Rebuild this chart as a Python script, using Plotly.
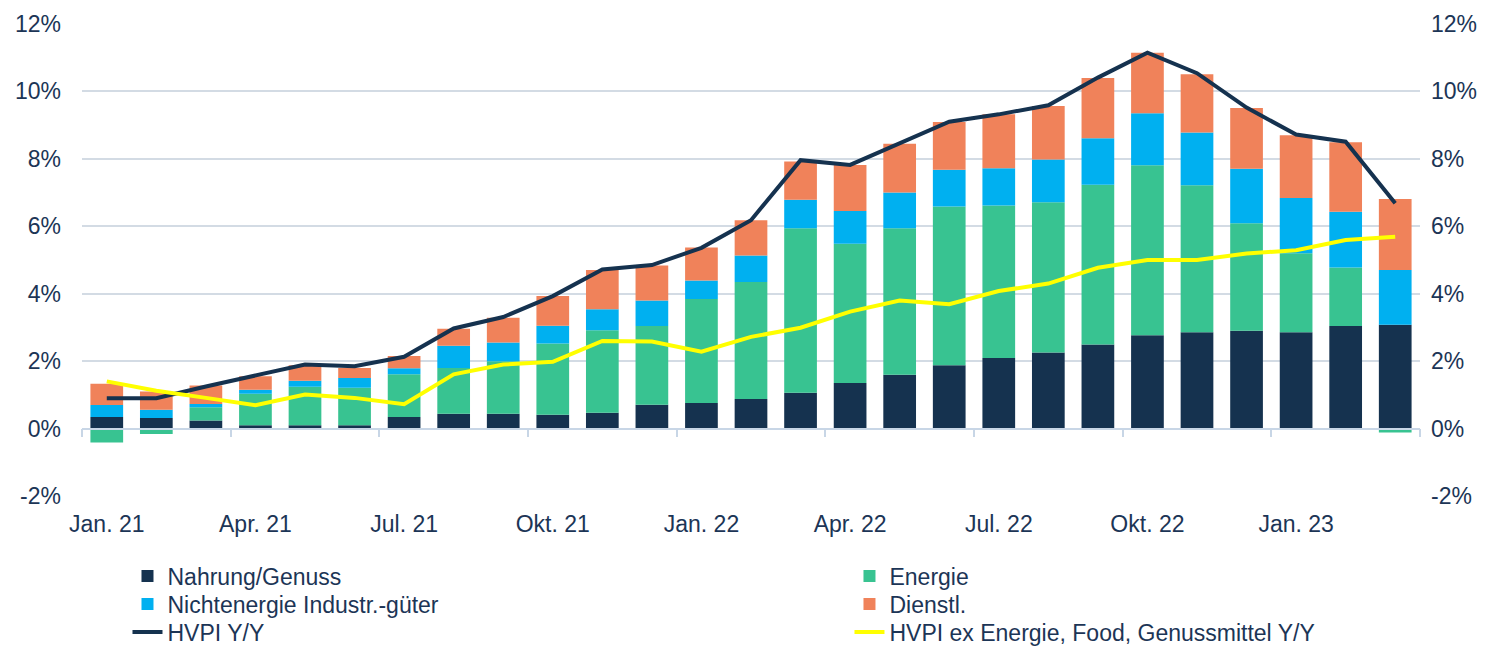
import plotly.graph_objects as go

months = ["Jan. 21", "Feb. 21", "Mrz. 21", "Apr. 21", "Mai 21", "Jun. 21",
          "Jul. 21", "Aug. 21", "Sep. 21", "Okt. 21", "Nov. 21", "Dez. 21",
          "Jan. 22", "Feb. 22", "Mrz. 22", "Apr. 22", "Mai 22", "Jun. 22",
          "Jul. 22", "Aug. 22", "Sep. 22", "Okt. 22", "Nov. 22", "Dez. 22",
          "Jan. 23", "Feb. 23", "Mrz. 23"]

# Beiträge in Prozentpunkten
nahrung = [0.34, 0.31, 0.24, 0.10, 0.10, 0.10, 0.34, 0.44, 0.44, 0.41, 0.47, 0.71,
           0.76, 0.88, 1.06, 1.35, 1.60, 1.88, 2.09, 2.26, 2.49, 2.77, 2.86, 2.90,
           2.86, 3.04, 3.08]
energie = [-0.41, -0.16, 0.39, 0.93, 1.14, 1.11, 1.27, 1.36, 1.56, 2.11, 2.45, 2.33,
           3.08, 3.47, 4.88, 4.13, 4.34, 4.71, 4.53, 4.45, 4.74, 5.04, 4.36, 3.19,
           2.34, 1.74, -0.12]
industrie = [0.36, 0.25, 0.10, 0.12, 0.18, 0.29, 0.18, 0.66, 0.55, 0.53, 0.62, 0.76,
             0.55, 0.78, 0.85, 0.97, 1.06, 1.09, 1.10, 1.27, 1.38, 1.54, 1.56, 1.62,
             1.64, 1.65, 1.62]
dienstl = [0.63, 0.54, 0.55, 0.40, 0.46, 0.30, 0.36, 0.50, 0.74, 0.88, 1.16, 1.04,
           0.98, 1.05, 1.13, 1.37, 1.45, 1.41, 1.60, 1.59, 1.79, 1.80, 1.73, 1.80,
           1.86, 2.06, 2.11]
hvpi = [0.9, 0.9, 1.25, 1.56, 1.9, 1.85, 2.13, 2.97, 3.31, 3.93, 4.72, 4.85,
        5.36, 6.18, 7.96, 7.82, 8.45, 9.1, 9.32, 9.59, 10.41, 11.15, 10.54, 9.52,
        8.72, 8.51, 6.68]
hvpi_kern = [1.4, 1.12, 0.91, 0.69, 1.01, 0.91, 0.72, 1.61, 1.9, 1.98, 2.6, 2.58,
             2.28, 2.72, 2.99, 3.47, 3.8, 3.69, 4.08, 4.3, 4.77, 5.0, 5.0, 5.19,
             5.29, 5.59, 5.69]

y_ticks = [-2, 0, 2, 4, 6, 8, 10, 12]
y_labels = [f"{v}%" for v in y_ticks]

x = list(range(len(months)))
navy = "#15324f"
txt = "#1c3556"
grid = "#d3dbe4"
font = "Liberation Sans"

fig = go.Figure()
bars = [("Nahrung/Genuss", nahrung, navy, "legend"),
        ("Energie", energie, "#38c391", "legend2"),
        ("Nichtenergie Industr.-güter", industrie, "#00b0f0", "legend3"),
        ("Dienstl.", dienstl, "#f0825a", "legend4")]
for name, vals, col, leg in bars:
    fig.add_trace(go.Bar(x=x, y=vals, name=name, legend=leg,
                         marker=dict(color=col, line=dict(width=0))))

fig.add_trace(go.Scatter(x=x, y=hvpi, name="HVPI Y/Y", mode="lines", legend="legend5",
                         line=dict(color=navy, width=4)))
fig.add_trace(go.Scatter(x=x, y=hvpi_kern, name="HVPI ex Energie, Food, Genussmittel Y/Y",
                         mode="lines", line=dict(color="#ffff00", width=4),
                         legend="legend6", xaxis="x2", yaxis="y2"))


def leg(xp, yp):
    return dict(orientation="v", x=xp, xanchor="left", y=yp, yanchor="middle",
                visible=True, bgcolor="rgba(0,0,0,0)",
                font=dict(family=font, size=23, color=txt))


yr = [-2, 12]
fig.update_layout(
    width=1478, height=639,
    margin=dict(l=74, r=66, t=16, b=151, autoexpand=False),
    plot_bgcolor="white", paper_bgcolor="white",
    showlegend=True,
    barmode="relative", bargap=0.34,
    font=dict(family=font, size=23, color=txt),
    xaxis=dict(range=[-0.5, 26.5], tickvals=x[::3], ticktext=months[::3],
               showgrid=False, zeroline=False, showline=False, ticks="",
               ticklabelstandoff=12),
    xaxis2=dict(overlaying="x", anchor="free", position=2 / 14, range=[-0.5, 26.5],
                tickvals=[i - 0.5 for i in range(0, len(months) + 1, 3)],
                ticks="outside", ticklen=8, tickwidth=1.5, tickcolor="#c8d6e6",
                showline=True, linecolor="#c8d6e6", linewidth=1.5,
                showticklabels=False, showgrid=False, zeroline=False),
    yaxis=dict(range=yr, tickvals=y_ticks, ticktext=y_labels, showgrid=True,
               gridcolor=grid, gridwidth=1.5, zeroline=False, showline=False,
               ticklabelstandoff=20),
    yaxis2=dict(overlaying="y", side="right", anchor="x", range=yr, tickvals=y_ticks,
                ticktext=y_labels, showgrid=False, zeroline=False, showline=False,
                ticklabelstandoff=10),
    legend=leg(0.034, -0.1695),
    legend2=leg(0.5736, -0.1695),
    legend3=leg(0.034, -0.2288),
    legend4=leg(0.5736, -0.2288),
    legend5=leg(0.034, -0.2881),
    legend6=leg(0.5736, -0.2881),
)

fig.write_html("out.html")
